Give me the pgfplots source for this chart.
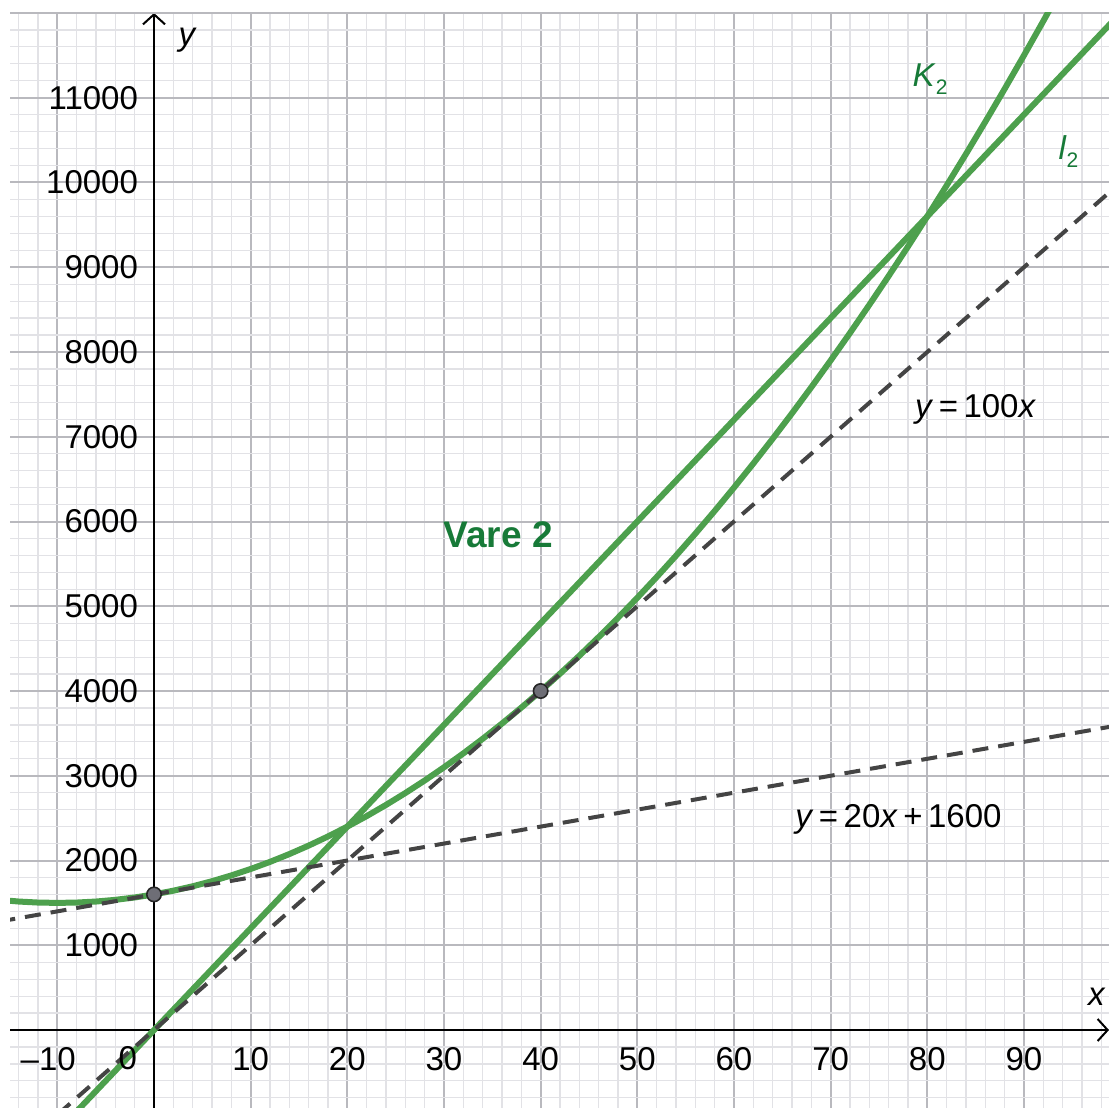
\documentclass[border=0pt]{standalone}
\usepackage{pgfplots}
\pgfplotsset{compat=1.18}
\usepackage{fontspec}
\setmainfont{Liberation Sans}
\usetikzlibrary{arrows.meta}

\definecolor{ggline}{RGB}{77,160,77}
\definecolor{gglabel}{RGB}{23,122,56}
\definecolor{dashgray}{RGB}{68,68,68}
\definecolor{majgrid}{RGB}{185,185,190}
\definecolor{mingrid}{RGB}{226,226,230}
\definecolor{ptfill}{RGB}{110,110,118}

\begin{document}
\begin{tikzpicture}
\useasboundingbox (0,0) rectangle (554.5pt,554pt);
\begin{axis}[
  at={(5pt,0pt)}, anchor=south west,
  scale only axis,
  width=549.5pt, height=547.5pt,
  xmin=-14.9, xmax=98.8,
  ymin=-920, ymax=12000,
  axis lines=middle,
  axis line style={line width=1pt, black, -{Straight Barb[length=5pt,width=11pt]}},
  xtick={-10,0,10,20,30,40,50,60,70,80,90},
  xticklabels={\llap{\textendash}10,,10,20,30,40,50,60,70,80,90},
  ytick={1000,2000,...,11000},
  minor xtick={-14,-12,...,98},
  minor ytick={-800,-600,...,12000},
  extra y ticks={12000},
  extra y tick labels={},
  extra y tick style={grid=major},
  grid=both,
  major grid style={majgrid, line width=1pt},
  minor grid style={mingrid, line width=0.6pt},
  major tick length=0pt, minor tick length=0pt,
  tick style={draw=none},
  scaled y ticks=false,
  /pgf/number format/assume math mode=true,
  /pgf/number format/1000 sep={},
  tick label style={font=\fontsize{16.5}{19}\selectfont, black},
  xticklabel style={yshift=-5pt},
  yticklabel style={xshift=-4.5pt},
  clip=true,
]
% K2 = cost curve
\addplot[ggline, line width=3pt] coordinates {
(-16,1536) (-14,1516) (-12,1504) (-10,1500) (-8,1504) (-6,1516) (-4,1536) (-2,1564)
(0,1600) (2,1644) (4,1696) (6,1756) (8,1824) (10,1900) (12,1984) (14,2076) (16,2176)
(18,2284) (20,2400) (22,2524) (24,2656) (26,2796) (28,2944) (30,3100) (32,3264)
(34,3436) (36,3616) (38,3804) (40,4000) (42,4204) (44,4416) (46,4636) (48,4864)
(50,5100) (52,5344) (54,5596) (56,5856) (58,6124) (60,6400) (62,6684) (64,6976)
(66,7276) (68,7584) (70,7900) (72,8224) (74,8556) (76,8896) (78,9244) (80,9600)
(82,9964) (84,10336) (86,10716) (88,11104) (90,11500) (92,11904) (94,12316)
};
% l2 = income line
\addplot[ggline, line width=3pt] coordinates {(-16,-1920) (100,12000)};
% tangents
\addplot[dashgray, line width=2pt, dash pattern=on 8pt off 5pt] coordinates {(-16,-1600) (100,10000)};
\addplot[dashgray, line width=2pt, dash pattern=on 8pt off 5pt] coordinates {(-16,1280) (100,3600)};
% points
\addplot[only marks, mark=*, mark size=3.6pt, mark options={fill=ptfill, draw=black!85, line width=0.8pt}]
  coordinates {(0,1600) (40,4000)};

\node[font=\fontsize{16.5}{19}\selectfont] at (axis cs:-2.7,-330) {0};
\node[font=\fontsize{16.5}{19}\selectfont\itshape] at (axis cs:3.4,11680) {y};
\node[font=\fontsize{16.5}{19}\selectfont\itshape] at (axis cs:97.5,390) {x};
\node[font=\fontsize{16.5}{19}\selectfont, text=gglabel] at (axis cs:80.3,11220)
  {\textit{K}\raisebox{-0.45ex}{\fontsize{10.5}{10}\selectfont 2}};
\node[font=\fontsize{16.5}{19}\selectfont, text=gglabel] at (axis cs:94.6,10370)
  {\textit{l}\raisebox{-0.45ex}{\fontsize{10.5}{10}\selectfont 2}};
\node[anchor=west, font=\fontsize{16.5}{19}\selectfont, inner sep=0pt] at (axis cs:78.7,7320)
  {\textit{y}\,=\,100\textit{x}};
\node[anchor=west, font=\fontsize{16.5}{19}\selectfont, inner sep=0pt] at (axis cs:66.3,2480)
  {\textit{y}\,=\,20\textit{x}\,+\,1600};
\node[font=\fontsize{18.5}{22}\selectfont\bfseries, text=gglabel] at (axis cs:35.6,5840) {Vare 2};
\end{axis}
\end{tikzpicture}
\end{document}
